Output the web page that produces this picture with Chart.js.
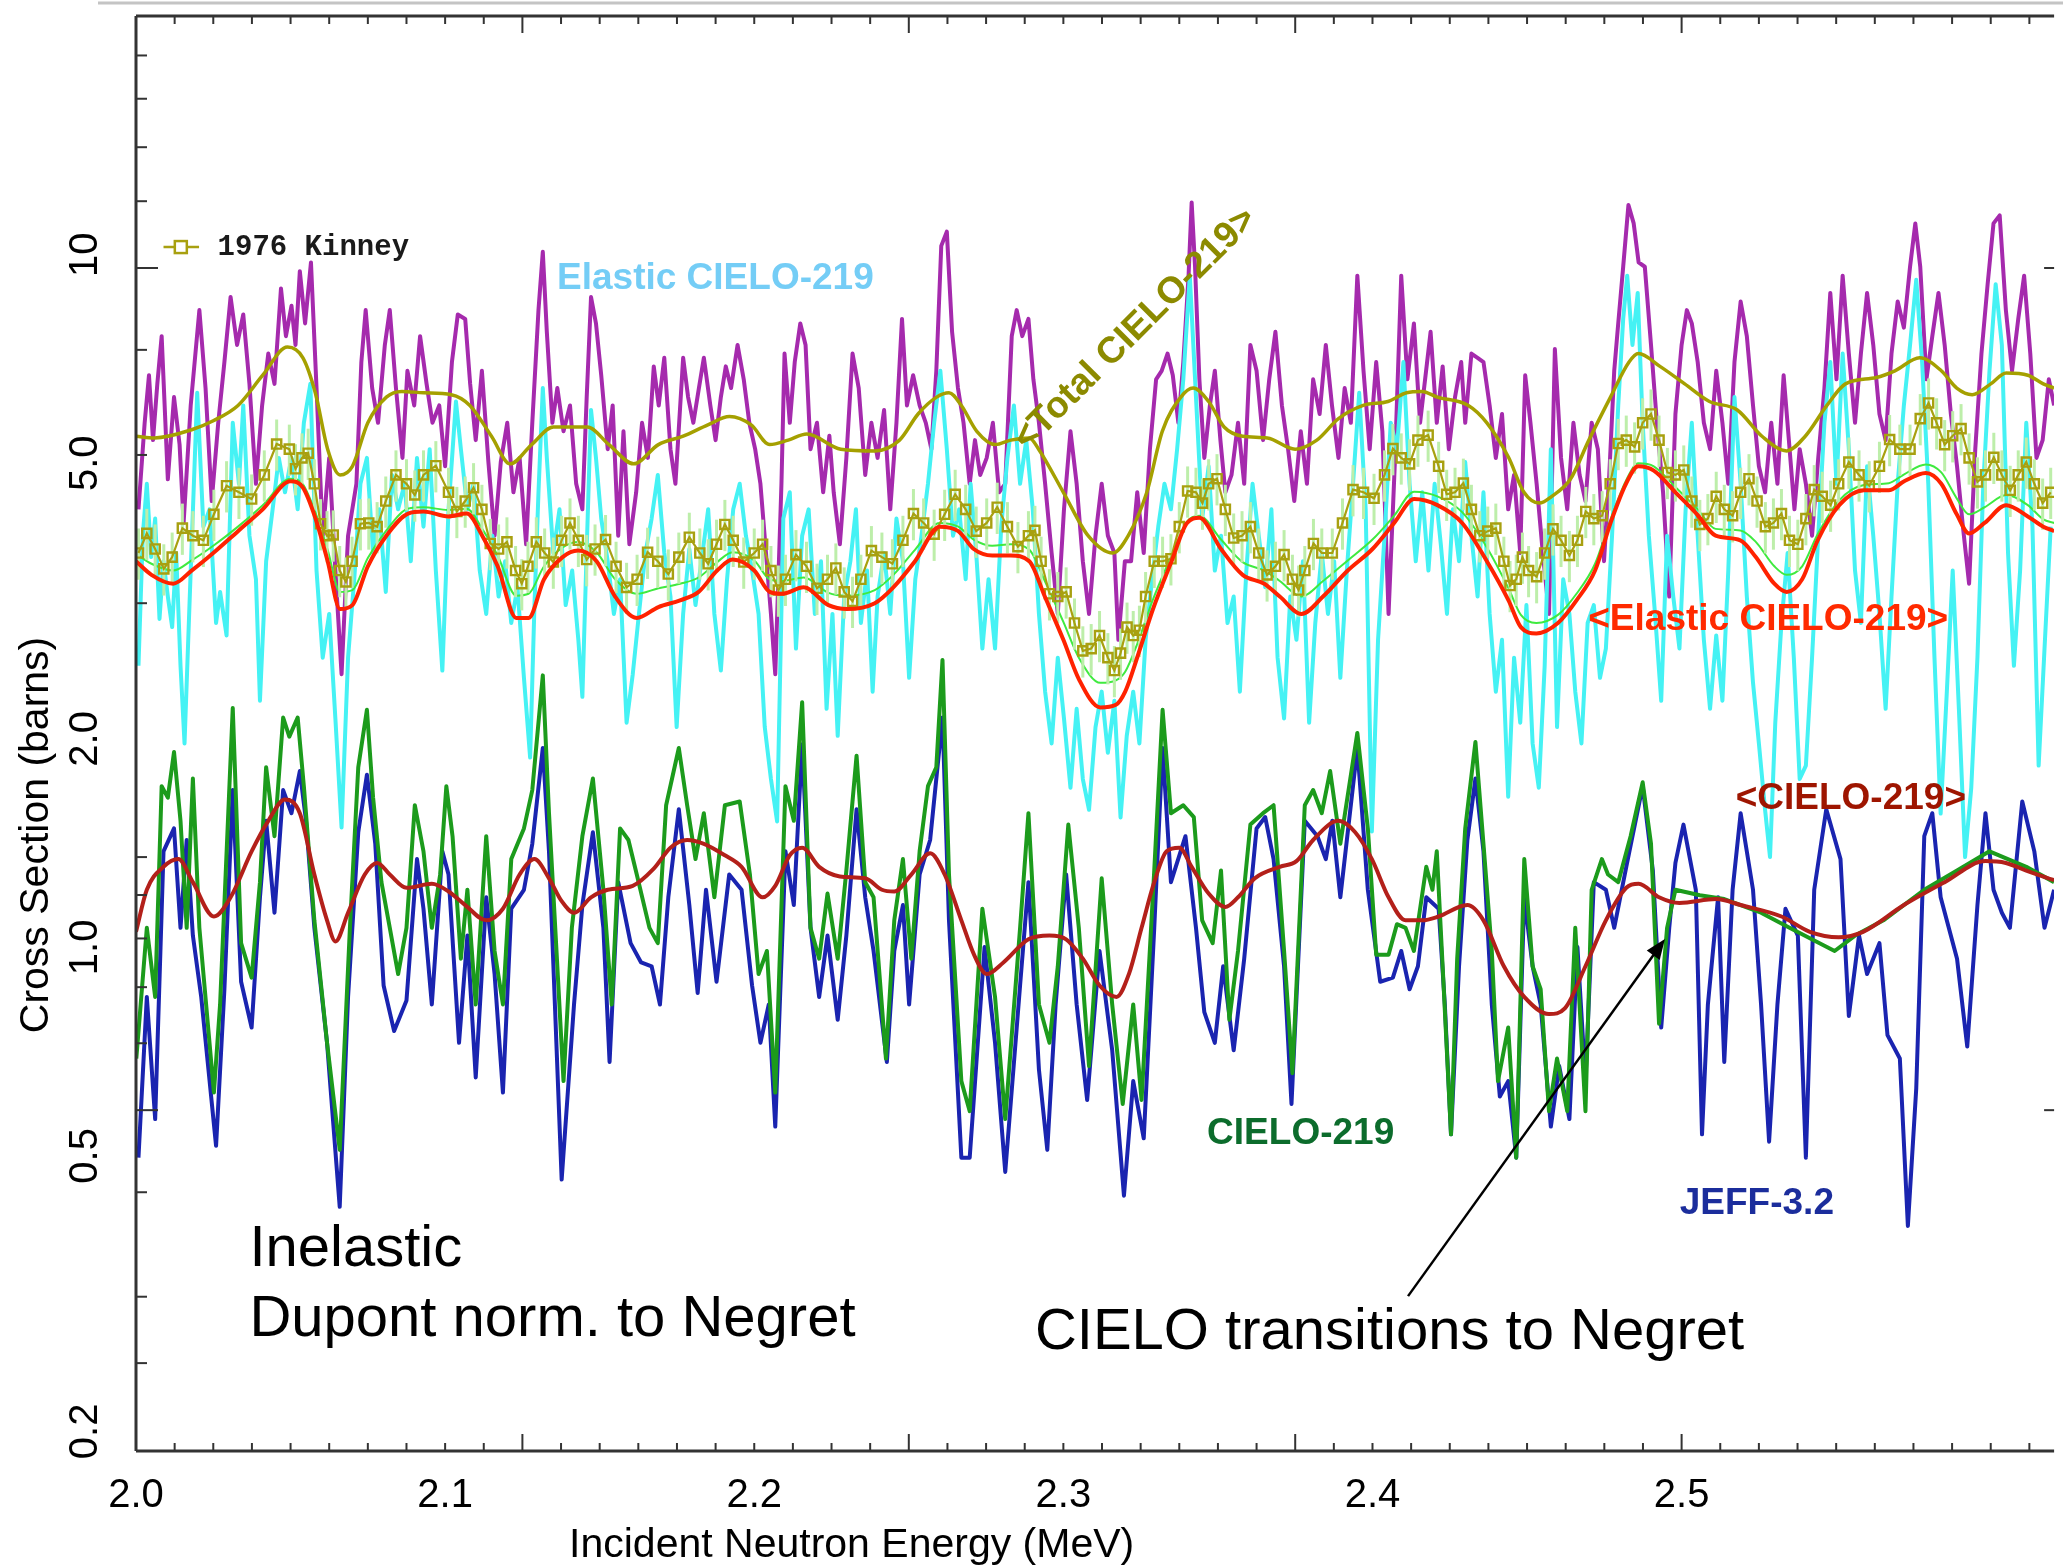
<!DOCTYPE html>
<html lang="en">
<head>
<meta charset="UTF-8">
<title>Inelastic and elastic cross sections 2.0 - 2.6 MeV</title>
<script src="https://cdn.jsdelivr.net/npm/chart.js"></script>
<style>
  html, body { margin: 0; padding: 0; background: #fff; overflow: hidden; }
  canvas { display: block; }
</style>
</head>
<body>
<canvas id="xsChart" width="2063" height="1568"></canvas>
<script>
// axis ranges (MeV, barns) and tick labels
const xRange = [2.0, 2.6205];
const yRange = [0.1874, 22.12];
const xTickVals = [2.0, 2.1, 2.2, 2.3, 2.4, 2.5];
const xTickText = ['2.0', '2.1', '2.2', '2.3', '2.4', '2.5'];
const yTickVals = [0.2, 0.5, 1, 2, 5, 10];
const yTickText = ['0.2', '0.5', '1.0', '2.0', '5.0', '10'];
// tick marks of the original plot frame
const xMinorStep = 0.0125;
const leftMarks = [0.251, 0.313, 0.443, 0.582, 0.727, 0.876, 1.03, 1.19, 1.35, 3.14, 5.14, 7.29, 9.57, 11.95, 14.3, 16.8, 19.4];
const leftMarksLong = [0.582, 9.57];

// total, pointwise (magenta)
const totalPts = [
[2.0008,4.29],[2.0028,5.72],[2.0042,6.70],[2.0055,5.40],[2.0069,6.51],[2.0083,7.63],[2.0103,4.74],[2.0123,6.23],[2.0141,5.32],[2.0154,4.10],[2.0177,6.06],[2.0205,8.32],[2.0225,6.42],[2.0245,4.41],[2.0266,5.72],[2.0286,7.00],[2.0306,8.69],[2.0327,7.41],[2.0347,8.20],[2.0367,6.51],[2.0388,4.67],[2.0408,6.06],[2.0428,7.20],[2.0448,6.51],[2.0469,8.94],[2.0485,7.63],[2.0503,8.44],[2.0516,7.41],[2.0530,9.47],[2.0547,7.96],[2.0566,9.75],[2.0584,6.42],[2.0604,3.93],[2.0625,5.09],[2.0645,3.50],[2.0665,2.48],[2.0686,3.93],[2.0713,4.67],[2.0729,7.00],[2.0743,8.32],[2.0764,6.42],[2.0783,5.72],[2.0805,7.41],[2.0821,8.32],[2.0841,6.42],[2.0862,5.09],[2.0878,6.80],[2.0900,6.06],[2.0919,7.63],[2.0940,6.51],[2.0959,5.72],[2.0981,6.06],[2.1000,4.95],[2.1022,7.00],[2.1041,8.20],[2.1065,8.08],[2.1081,6.51],[2.1099,5.40],[2.1119,6.80],[2.1140,5.02],[2.1160,3.93],[2.1180,5.02],[2.1201,5.72],[2.1221,4.54],[2.1241,5.09],[2.1262,3.82],[2.1282,5.72],[2.1302,8.32],[2.1316,10.1],[2.1329,7.74],[2.1347,5.72],[2.1363,6.42],[2.1383,5.56],[2.1404,6.06],[2.1424,4.67],[2.1444,4.29],[2.1458,6.23],[2.1472,8.69],[2.1488,7.96],[2.1505,6.70],[2.1526,5.24],[2.1542,6.06],[2.1560,3.93],[2.1577,5.56],[2.1596,3.82],[2.1618,4.54],[2.1637,5.72],[2.1656,5.09],[2.1675,6.90],[2.1691,6.06],[2.1709,7.10],[2.1729,5.24],[2.1745,4.67],[2.1770,7.10],[2.1786,6.23],[2.1803,5.72],[2.1821,6.42],[2.1837,7.10],[2.1858,6.06],[2.1875,5.40],[2.1892,6.23],[2.1908,6.90],[2.1925,6.42],[2.1946,7.41],[2.1966,6.61],[2.1984,5.72],[2.2003,5.24],[2.2020,4.67],[2.2038,3.71],[2.2054,3.03],[2.2068,2.48],
[2.2088,4.67],[2.2098,7.20],[2.2115,5.72],[2.2131,7.00],[2.2149,7.96],[2.2166,7.41],[2.2182,5.24],[2.2203,5.72],[2.2223,4.54],[2.2243,5.48],[2.2257,4.54],[2.2277,3.82],[2.2298,5.09],[2.2318,7.20],[2.2338,6.42],[2.2359,4.81],[2.2379,5.72],[2.2399,5.09],[2.2420,5.97],[2.2440,4.29],[2.2460,5.72],[2.2478,8.08],[2.2494,6.06],[2.2514,6.70],[2.2535,6.06],[2.2555,5.72],[2.2573,5.24],[2.2589,6.80],[2.2605,10.3],[2.2623,10.8],[2.2640,7.74],[2.2659,6.42],[2.2677,5.72],[2.2697,4.67],[2.2714,5.40],[2.2731,4.81],[2.2752,5.09],[2.2772,5.72],[2.2792,4.54],[2.2812,4.67],[2.2833,7.63],[2.2849,8.32],[2.2867,7.63],[2.2887,8.08],[2.2903,6.61],[2.2921,5.72],[2.2941,4.67],[2.2962,3.71],[2.2982,3.03],[2.3002,4.29],[2.3023,5.56],[2.3043,4.67],[2.3063,3.61],[2.3083,3.03],[2.3104,3.93],[2.3124,4.67],[2.3144,3.93],[2.3165,3.71],[2.3178,2.78],[2.3199,3.61],[2.3219,3.61],[2.3239,4.54],[2.3260,3.71],[2.3280,5.24],[2.3300,6.61],[2.3318,6.80],[2.3337,7.20],[2.3354,6.70],[2.3372,5.72],[2.3388,7.00],[2.3405,9.33],[2.3415,11.9],[2.3426,9.61],[2.3440,6.61],[2.3456,5.09],[2.3474,6.06],[2.3490,6.80],[2.3508,5.40],[2.3524,4.54],[2.3544,4.81],[2.3565,5.72],[2.3585,4.67],[2.3605,7.41],[2.3625,6.80],[2.3646,5.40],[2.3666,6.61],[2.3686,7.74],[2.3707,6.06],[2.3727,5.24],[2.3747,4.41],[2.3768,5.56],[2.3788,4.67],[2.3808,6.61],[2.3829,5.89],[2.3849,7.41],[2.3869,6.06],[2.3890,5.09],[2.3910,6.42],[2.3930,5.72],[2.3951,9.33],[2.3971,6.80],[2.3991,5.24],[2.4012,7.00],[2.4032,5.56],[2.4052,3.03],[2.4073,5.09],[2.4093,9.33],[2.4113,6.61],[2.4134,7.96],[2.4154,5.72],
[2.4188,7.74],[2.4208,5.72],[2.4227,6.90],[2.4247,5.24],[2.4267,6.23],[2.4287,7.00],[2.4300,5.72],[2.4320,7.20],[2.4340,7.10],[2.4359,7.00],[2.4379,6.06],[2.4399,5.09],[2.4419,5.89],[2.4439,4.29],[2.4458,4.81],[2.4478,3.71],[2.4494,6.70],[2.4511,5.72],[2.4531,4.67],[2.4551,3.71],[2.4571,3.03],[2.4590,7.31],[2.4610,5.09],[2.4630,4.29],[2.4650,5.72],[2.4670,4.81],[2.4689,4.41],[2.4709,5.72],[2.4729,5.24],[2.4749,3.61],[2.4766,4.81],[2.4782,6.80],[2.4795,7.96],[2.4811,9.61],[2.4828,11.8],[2.4845,11.1],[2.4861,9.75],[2.4881,9.61],[2.4901,7.41],[2.4920,5.72],[2.4940,4.54],[2.4960,3.21],[2.4980,5.89],[2.5000,7.41],[2.5017,8.32],[2.5033,7.96],[2.5052,7.00],[2.5072,5.72],[2.5092,5.24],[2.5112,6.80],[2.5132,5.72],[2.5151,4.67],[2.5171,7.00],[2.5191,8.56],[2.5211,7.63],[2.5231,6.06],[2.5250,4.95],[2.5270,4.54],[2.5290,5.72],[2.5310,4.67],[2.5330,6.70],[2.5347,5.40],[2.5365,4.29],[2.5382,5.24],[2.5402,4.67],[2.5422,3.93],[2.5442,5.09],[2.5462,6.42],[2.5481,8.81],[2.5501,6.61],[2.5521,9.33],[2.5541,7.20],[2.5561,5.72],[2.5580,7.20],[2.5600,8.81],[2.5620,7.41],[2.5640,5.89],[2.5660,5.40],[2.5679,7.20],[2.5699,8.56],[2.5719,7.85],[2.5739,9.61],[2.5756,11.1],[2.5772,9.61],[2.5792,6.61],[2.5811,7.63],[2.5831,8.81],[2.5851,7.41],[2.5871,5.89],[2.5891,4.95],[2.5910,4.05],[2.5930,3.35],[2.5950,5.24],[2.5970,7.20],[2.5990,9.07],[2.6009,11.1],[2.6029,11.4],[2.6049,8.32],[2.6069,6.80],[2.6089,8.08],[2.6108,9.33],[2.6128,7.20],[2.6148,5.09],[2.6168,5.40],[2.6188,6.61],[2.6205,6.06]
];

// elastic CIELO-219, pointwise (cyan)
const elasticPts = [
[2.0008,2.55],[2.0022,3.93],[2.0035,4.67],[2.0049,3.66],[2.0062,4.16],[2.0076,2.98],[2.0089,3.61],[2.0103,3.21],[2.0117,2.90],[2.0130,3.71],[2.0144,2.55],[2.0157,1.97],[2.0177,3.50],[2.0198,6.32],[2.0218,4.05],[2.0238,4.29],[2.0259,2.94],[2.0272,3.26],[2.0293,2.82],[2.0313,5.72],[2.0333,4.67],[2.0347,6.06],[2.0367,3.93],[2.0388,3.40],[2.0401,2.27],[2.0421,3.61],[2.0442,4.29],[2.0462,5.09],[2.0482,4.54],[2.0503,5.09],[2.0523,4.29],[2.0543,5.72],[2.0564,6.51],[2.0584,3.50],[2.0604,2.62],[2.0625,3.03],[2.0645,2.14],[2.0665,1.49],[2.0686,2.62],[2.0706,3.40],[2.0726,4.67],[2.0747,5.09],[2.0767,3.71],[2.0787,4.29],[2.0808,3.26],[2.0828,4.81],[2.0848,4.29],[2.0869,4.67],[2.0889,3.61],[2.0909,5.09],[2.0930,4.05],[2.0950,5.24],[2.0970,3.50],[2.0991,2.51],[2.1011,4.29],[2.1035,6.14],[2.1051,5.24],[2.1072,4.29],[2.1092,4.67],[2.1112,3.50],[2.1133,3.03],[2.1153,3.93],[2.1173,3.21],[2.1194,3.61],[2.1214,2.94],[2.1234,3.31],[2.1255,2.45],[2.1275,1.88],[2.1289,3.12],[2.1302,4.54],[2.1316,6.42],[2.1329,5.09],[2.1350,3.71],[2.1370,4.29],[2.1390,3.12],[2.1411,3.50],[2.1431,2.78],[2.1444,2.30],[2.1458,3.76],[2.1472,5.97],[2.1488,5.09],[2.1505,4.16],[2.1526,3.61],[2.1546,3.03],[2.1566,3.40],[2.1587,2.11],[2.1607,2.48],[2.1627,3.03],[2.1648,3.71],[2.1668,4.16],[2.1688,4.81],[2.1709,3.71],[2.1729,3.21],[2.1749,2.08],[2.1770,3.03],[2.1790,3.76],[2.1810,3.12],[2.1831,3.66],[2.1851,4.29],[2.1871,3.03],[2.1892,2.51],[2.1912,3.40],[2.1932,4.29],[2.1953,4.67],[2.1973,3.93],[2.1993,3.50],[2.2014,3.03],[2.2034,2.08],[2.2054,1.75],[2.2074,1.52],
[2.2094,4.16],[2.2115,4.54],[2.2135,2.70],[2.2155,3.93],[2.2176,4.29],[2.2196,3.03],[2.2216,3.61],[2.2234,2.21],[2.2253,3.03],[2.2270,2.02],[2.2291,3.21],[2.2311,3.61],[2.2329,4.29],[2.2345,2.94],[2.2365,3.50],[2.2383,2.34],[2.2399,3.21],[2.2420,3.71],[2.2440,3.03],[2.2460,4.16],[2.2481,3.61],[2.2501,2.45],[2.2521,3.40],[2.2541,3.93],[2.2562,4.67],[2.2582,5.72],[2.2602,6.80],[2.2623,5.24],[2.2643,3.93],[2.2663,4.29],[2.2684,3.40],[2.2700,4.67],[2.2718,3.71],[2.2738,2.70],[2.2758,3.40],[2.2779,2.70],[2.2799,4.05],[2.2819,5.09],[2.2840,6.06],[2.2860,4.67],[2.2880,5.40],[2.2901,4.29],[2.2921,3.03],[2.2941,2.34],[2.2962,1.97],[2.2982,2.62],[2.3002,2.14],[2.3023,1.70],[2.3043,2.21],[2.3063,1.75],[2.3083,1.58],[2.3104,2.08],[2.3124,2.34],[2.3144,1.91],[2.3165,2.27],[2.3185,1.54],[2.3205,2.02],[2.3226,2.34],[2.3246,1.97],[2.3266,2.78],[2.3287,3.40],[2.3307,4.05],[2.3327,4.67],[2.3348,4.29],[2.3368,5.24],[2.3388,6.61],[2.3409,9.33],[2.3429,6.23],[2.3449,4.16],[2.3470,4.95],[2.3490,3.50],[2.3510,3.93],[2.3531,2.94],[2.3551,3.21],[2.3571,2.34],[2.3592,3.50],[2.3612,4.67],[2.3632,3.93],[2.3653,3.31],[2.3673,4.29],[2.3693,2.62],[2.3714,2.14],[2.3734,3.21],[2.3754,2.78],[2.3775,3.61],[2.3795,2.11],[2.3815,2.94],[2.3836,3.71],[2.3856,3.03],[2.3876,3.61],[2.3896,2.45],[2.3917,3.50],[2.3937,4.67],[2.3957,6.32],[2.3978,4.29],[2.3998,1.47],[2.4018,2.78],[2.4039,3.93],[2.4059,5.72],[2.4079,5.24],[2.4100,7.00],[2.4120,4.67],[2.4140,3.61],
[2.4161,4.54],[2.4181,3.50],[2.4201,4.67],[2.4221,3.82],[2.4241,3.03],[2.4260,4.29],[2.4280,3.61],[2.4300,5.02],[2.4320,3.93],[2.4340,3.21],[2.4359,4.54],[2.4379,3.03],[2.4399,2.34],[2.4419,2.78],[2.4439,1.65],[2.4458,2.62],[2.4478,2.11],[2.4498,3.12],[2.4518,1.97],[2.4538,1.70],[2.4557,2.55],[2.4577,5.24],[2.4597,2.08],[2.4617,3.40],[2.4637,3.03],[2.4656,2.34],[2.4676,1.97],[2.4696,2.94],[2.4716,3.12],[2.4736,2.45],[2.4755,2.70],[2.4775,3.93],[2.4795,6.06],[2.4811,8.08],[2.4824,9.33],[2.4841,7.41],[2.4858,8.81],[2.4874,5.72],[2.4894,3.93],[2.4914,3.03],[2.4934,2.27],[2.4953,3.93],[2.4973,3.21],[2.4993,2.70],[2.5013,4.29],[2.5033,5.72],[2.5052,3.93],[2.5072,2.78],[2.5092,2.21],[2.5112,2.82],[2.5132,2.27],[2.5151,3.50],[2.5171,6.23],[2.5191,4.67],[2.5211,3.21],[2.5231,2.41],[2.5250,1.97],[2.5270,1.58],[2.5286,1.35],[2.5303,2.11],[2.5323,2.94],[2.5343,3.71],[2.5363,2.62],[2.5382,1.75],[2.5402,1.83],[2.5422,2.62],[2.5442,3.93],[2.5462,5.72],[2.5481,7.00],[2.5501,4.67],[2.5521,7.20],[2.5541,5.24],[2.5561,3.50],[2.5580,2.94],[2.5600,4.95],[2.5620,3.93],[2.5640,3.03],[2.5660,2.21],[2.5679,3.21],[2.5699,4.67],[2.5719,6.06],[2.5739,7.41],[2.5759,9.20],[2.5778,7.00],[2.5798,4.67],[2.5818,2.62],[2.5838,1.56],[2.5858,2.34],[2.5877,3.50],[2.5897,2.21],[2.5917,1.35],[2.5937,1.70],[2.5957,2.62],[2.5976,4.67],[2.5996,6.80],[2.6016,9.07],[2.6036,7.41],[2.6056,3.71],[2.6075,2.55],[2.6095,3.50],[2.6115,5.72],[2.6135,4.05],[2.6155,1.83],[2.6174,2.70],[2.6194,4.05]
];

// <Total CIELO-219> (olive, averaged)
const totalAvg = [
[2.000,5.47],[2.006,5.44],[2.018,5.59],[2.025,5.76],[2.033,6.06],[2.041,6.70],[2.049,7.36],[2.054,7.10],[2.058,6.32],[2.062,5.24],[2.066,4.81],[2.070,4.95],[2.075,5.72],[2.081,6.23],[2.086,6.35],[2.093,6.32],[2.102,6.28],[2.108,6.06],[2.115,5.47],[2.121,4.99],[2.128,5.32],[2.135,5.64],[2.146,5.64],[2.153,5.32],[2.161,4.99],[2.169,5.32],[2.177,5.47],[2.185,5.68],[2.192,5.84],[2.199,5.68],[2.205,5.32],[2.211,5.40],[2.217,5.51],[2.228,5.24],[2.239,5.21],[2.247,5.40],[2.253,5.89],[2.259,6.23],[2.263,6.32],[2.267,6.06],[2.272,5.56],[2.278,5.32],[2.283,5.40],[2.289,5.44],[2.292,5.24],[2.300,4.54],[2.308,3.93],[2.316,3.71],[2.321,3.93],[2.327,4.54],[2.332,5.56],[2.338,6.23],[2.342,6.42],[2.347,6.14],[2.352,5.64],[2.358,5.47],[2.366,5.44],[2.375,5.24],[2.382,5.40],[2.389,5.80],[2.397,6.06],[2.405,6.14],[2.411,6.32],[2.416,6.35],[2.421,6.23],[2.431,6.06],[2.437,5.72],[2.444,5.10],[2.449,4.54],[2.454,4.38],[2.458,4.48],[2.464,4.74],[2.470,5.40],[2.477,6.23],[2.483,7.00],[2.486,7.20],[2.493,6.90],[2.501,6.51],[2.509,6.14],[2.518,5.97],[2.526,5.47],[2.534,5.21],[2.540,5.47],[2.547,6.06],[2.553,6.51],[2.563,6.65],[2.569,6.80],[2.577,7.10],[2.584,6.80],[2.589,6.42],[2.594,6.28],[2.600,6.51],[2.605,6.75],[2.612,6.70],[2.617,6.51],[2.6205,6.42]
];

// 1976 Kinney measurement (olive squares)
const kinneyPts = [
[2.0008,3.71],[2.0035,3.96],[2.0062,3.76],[2.0090,3.52],[2.0117,3.66],[2.0150,4.03],[2.0184,3.93],[2.0218,3.87],[2.0252,4.22],[2.0293,4.64],[2.0333,4.54],[2.0374,4.44],[2.0415,4.81],[2.0455,5.33],[2.0496,5.24],[2.0516,4.91],[2.0537,5.09],[2.0557,5.17],[2.0577,4.67],[2.0597,4.09],[2.0618,3.93],[2.0638,3.94],[2.0659,3.50],[2.0679,3.37],[2.0699,3.61],[2.0726,4.09],[2.0753,4.10],[2.0780,4.05],[2.0808,4.41],[2.0841,4.81],[2.0875,4.67],[2.0902,4.50],[2.0930,4.81],[2.0970,4.96],[2.1011,4.54],[2.1038,4.26],[2.1065,4.41],[2.1092,4.61],[2.1119,4.29],[2.1146,3.83],[2.1173,3.76],[2.1200,3.85],[2.1228,3.50],[2.1248,3.35],[2.1268,3.55],[2.1295,3.85],[2.1322,3.71],[2.1350,3.60],[2.1377,3.87],[2.1404,4.10],[2.1431,3.87],[2.1458,3.63],[2.1485,3.76],[2.1519,3.88],[2.1553,3.55],[2.1587,3.31],[2.1621,3.40],[2.1655,3.72],[2.1688,3.61],[2.1722,3.46],[2.1756,3.66],[2.1790,3.91],[2.1824,3.71],[2.1851,3.58],[2.1878,3.82],[2.1905,4.08],[2.1932,3.87],[2.1966,3.60],[2.2000,3.71],[2.2027,3.82],[2.2054,3.50],[2.2078,3.28],[2.2101,3.40],[2.2135,3.69],[2.2169,3.55],[2.2203,3.30],[2.2237,3.40],[2.2264,3.53],[2.2291,3.26],[2.2318,3.16],[2.2345,3.40],[2.2379,3.74],[2.2413,3.66],[2.2447,3.58],[2.2481,3.87],[2.2515,4.23],[2.2548,4.10],[2.2582,3.95],[2.2616,4.22],[2.2650,4.51],[2.2684,4.29],[2.2718,3.99],[2.2752,4.10],[2.2786,4.32],[2.2819,4.05],[2.2853,3.79],[2.2887,3.93],[2.2908,4.00],[2.2928,3.61],[2.2955,3.24],[2.2982,3.21],[2.3009,3.26],[2.3036,2.94],[2.3063,2.68],[2.3090,2.70],[2.3117,2.82],[2.3144,2.62],[2.3165,2.51],[2.3185,2.66],[2.3206,2.90],[2.3226,2.82],[2.3246,2.87],[2.3266,3.21],[2.3294,3.61],[2.3321,3.61],[2.3348,3.64],[2.3375,4.05],[2.3402,4.56],[2.3429,4.54],[2.3450,4.38],[2.3470,4.67],[2.3497,4.75],[2.3524,4.29],[2.3551,3.90],[2.3578,3.93],[2.3605,4.05],[2.3632,3.71],[2.3659,3.45],[2.3686,3.55],[2.3714,3.69],[2.3741,3.40],[2.3761,3.28],[2.3781,3.50],[2.3809,3.83],[2.3836,3.71],[2.3870,3.71],[2.3903,4.10],[2.3937,4.58],[2.3971,4.54],[2.4005,4.45],[2.4039,4.81],[2.4066,5.25],[2.4093,5.09],[2.4120,4.99],[2.4147,5.40],[2.4180,5.49],[2.4214,4.95],[2.4240,4.51],[2.4267,4.54],[2.4294,4.68],[2.4320,4.29],[2.4347,3.93],[2.4373,3.99],[2.4399,4.03],[2.4425,3.61],[2.4445,3.33],[2.4465,3.40],[2.4485,3.66],[2.4505,3.50],[2.4531,3.43],[2.4557,3.71],[2.4584,4.02],[2.4610,3.87],[2.4637,3.68],[2.4663,3.87],[2.4690,4.26],[2.4716,4.16],[2.4743,4.20],[2.4769,4.67],[2.4795,5.34],[2.4821,5.40],[2.4848,5.28],[2.4874,5.72],[2.4901,5.89],[2.4927,5.40],[2.4954,4.85],[2.4980,4.81],[2.5007,4.89],[2.5033,4.41],[2.5059,4.08],[2.5085,4.16],[2.5112,4.48],[2.5138,4.29],[2.5165,4.20],[2.5191,4.54],[2.5218,4.75],[2.5244,4.41],[2.5271,4.05],[2.5297,4.10],[2.5323,4.23],[2.5349,3.87],[2.5376,3.82],[2.5402,4.16],[2.5429,4.58],[2.5455,4.48],[2.5482,4.35],[2.5508,4.67],[2.5541,5.02],[2.5574,4.81],[2.5607,4.64],[2.5640,4.95],[2.5673,5.41],[2.5706,5.24],[2.5739,5.24],[2.5772,5.80],[2.5799,6.11],[2.5825,5.72],[2.5851,5.32],[2.5877,5.48],[2.5904,5.61],[2.5930,5.09],[2.5957,4.70],[2.5983,4.81],[2.6010,5.10],[2.6036,4.81],[2.6063,4.57],[2.6089,4.81],[2.6115,5.02],[2.6141,4.67],[2.6168,4.38],[2.6194,4.54]
];
const kinneyRelErr = 0.085;

// <Elastic CIELO-219> (red, averaged) and companion average (light green)
const elasticAvg = [
[2.000,3.61],[2.005,3.45],[2.012,3.35],[2.018,3.50],[2.025,3.71],[2.033,3.99],[2.041,4.29],[2.050,4.71],[2.054,4.61],[2.058,4.17],[2.062,3.61],[2.066,3.08],[2.070,3.12],[2.075,3.55],[2.081,3.93],[2.088,4.23],[2.093,4.26],[2.101,4.19],[2.107,4.23],[2.112,3.93],[2.117,3.55],[2.123,2.99],[2.127,2.99],[2.132,3.40],[2.138,3.66],[2.143,3.74],[2.149,3.61],[2.155,3.21],[2.162,2.99],[2.169,3.10],[2.176,3.17],[2.182,3.26],[2.188,3.50],[2.193,3.63],[2.200,3.50],[2.205,3.26],[2.209,3.24],[2.216,3.31],[2.224,3.12],[2.230,3.08],[2.239,3.14],[2.245,3.31],[2.252,3.61],[2.260,4.05],[2.266,3.99],[2.271,3.76],[2.277,3.68],[2.283,3.68],[2.289,3.61],[2.294,3.21],[2.300,2.78],[2.305,2.44],[2.312,2.22],[2.317,2.24],[2.320,2.34],[2.324,2.63],[2.329,3.08],[2.335,3.61],[2.340,4.10],[2.344,4.17],[2.351,3.76],[2.358,3.45],[2.365,3.35],[2.370,3.21],[2.377,3.03],[2.384,3.21],[2.392,3.50],[2.400,3.76],[2.407,4.10],[2.4135,4.44],[2.421,4.35],[2.429,4.10],[2.437,3.61],[2.444,3.17],[2.448,2.90],[2.453,2.84],[2.460,2.94],[2.466,3.17],[2.472,3.50],[2.477,4.10],[2.482,4.67],[2.486,4.95],[2.491,4.88],[2.498,4.54],[2.505,4.22],[2.511,3.93],[2.519,3.87],[2.524,3.66],[2.530,3.35],[2.534,3.26],[2.539,3.40],[2.544,3.87],[2.551,4.35],[2.559,4.57],[2.567,4.57],[2.572,4.71],[2.579,4.84],[2.584,4.67],[2.589,4.22],[2.593,3.96],[2.598,4.10],[2.605,4.35],[2.612,4.19],[2.617,4.05],[2.6205,3.99]
];
const elasticAvgAlt = [
[2.000,3.70],[2.005,3.58],[2.012,3.50],[2.018,3.62],[2.025,3.80],[2.033,4.05],[2.041,4.35],[2.050,4.75],[2.054,4.66],[2.058,4.25],[2.062,3.75],[2.066,3.26],[2.070,3.28],[2.075,3.65],[2.081,4.00],[2.088,4.30],[2.093,4.32],[2.101,4.28],[2.107,4.30],[2.112,4.02],[2.117,3.68],[2.123,3.22],[2.127,3.24],[2.132,3.55],[2.138,3.78],[2.143,3.85],[2.149,3.72],[2.155,3.40],[2.162,3.24],[2.169,3.30],[2.176,3.35],[2.182,3.42],[2.188,3.60],[2.193,3.72],[2.200,3.62],[2.205,3.40],[2.209,3.38],[2.216,3.42],[2.224,3.25],[2.230,3.22],[2.239,3.28],[2.245,3.45],[2.252,3.75],[2.260,4.10],[2.266,4.05],[2.271,3.88],[2.277,3.80],[2.283,3.82],[2.289,3.75],[2.294,3.38],[2.300,2.95],[2.305,2.62],[2.312,2.41],[2.317,2.43],[2.320,2.50],[2.324,2.75],[2.329,3.18],[2.335,3.68],[2.340,4.12],[2.344,4.20],[2.351,3.88],[2.358,3.60],[2.365,3.50],[2.370,3.38],[2.377,3.21],[2.384,3.38],[2.392,3.62],[2.400,3.88],[2.407,4.20],[2.4135,4.55],[2.421,4.48],[2.429,4.25],[2.437,3.78],[2.444,3.30],[2.448,3.02],[2.453,2.94],[2.460,3.02],[2.466,3.24],[2.472,3.58],[2.477,4.15],[2.482,4.72],[2.486,5.00],[2.491,4.95],[2.498,4.62],[2.505,4.30],[2.511,4.02],[2.519,4.00],[2.524,3.85],[2.530,3.55],[2.534,3.45],[2.539,3.55],[2.544,3.95],[2.551,4.42],[2.559,4.65],[2.567,4.68],[2.572,4.82],[2.579,4.98],[2.584,4.85],[2.589,4.45],[2.593,4.22],[2.598,4.32],[2.605,4.50],[2.612,4.35],[2.617,4.15],[2.6205,4.10]
];

// inelastic CIELO-219 (green), JEFF-3.2 (blue), <CIELO-219> average (dark red)
const inelCielo = [
[2.0001,0.691],[2.0035,1.067],[2.0062,0.848],[2.0083,1.709],[2.0103,1.645],[2.0123,1.915],[2.0144,1.523],[2.0164,1.067],[2.0184,1.753],[2.0205,1.067],[2.0252,0.617],[2.0272,0.827],[2.0313,2.216],[2.0340,1.014],[2.0374,0.904],[2.0401,1.242],[2.0421,1.820],[2.0448,1.447],[2.0476,2.147],[2.0496,2.015],[2.0523,2.147],[2.0543,1.709],[2.0577,1.094],[2.0618,0.728],[2.0659,0.510],[2.0692,1.067],[2.0719,1.820],[2.0747,2.203],[2.0767,1.645],[2.0794,1.242],[2.0821,1.067],[2.0848,0.915],[2.0875,1.067],[2.0902,1.604],[2.0930,1.376],[2.0957,1.067],[2.0984,1.274],[2.1004,1.709],[2.1024,1.447],[2.1051,0.963],[2.1072,1.211],[2.1099,0.827],[2.1133,1.447],[2.1160,0.988],[2.1187,0.827],[2.1214,1.341],[2.1255,1.485],[2.1282,1.687],[2.1316,2.470],[2.1336,1.562],[2.1363,0.939],[2.1383,0.641],[2.1410,1.067],[2.1444,1.447],[2.1478,1.753],[2.1512,1.211],[2.1539,0.827],[2.1566,1.485],[2.1593,1.429],[2.1620,1.274],[2.1661,1.067],[2.1688,1.014],[2.1715,1.604],[2.1756,1.940],[2.1783,1.604],[2.1810,1.341],[2.1837,1.562],[2.1871,1.181],[2.1905,1.604],[2.1953,1.624],[2.1986,1.274],[2.2014,0.915],[2.2041,0.988],[2.2068,0.617],
[2.2101,1.709],[2.2128,1.523],[2.2155,2.259],[2.2182,1.067],[2.2210,0.963],[2.2237,1.196],[2.2270,0.963],[2.2298,1.291],[2.2331,1.891],[2.2359,1.242],[2.2386,1.181],[2.2426,0.691],[2.2453,1.094],[2.2481,1.341],[2.2508,0.963],[2.2535,1.376],[2.2562,1.709],[2.2589,1.820],[2.2609,2.600],[2.2630,1.274],[2.2670,0.641],[2.2697,0.580],[2.2738,1.137],[2.2779,0.848],[2.2812,0.565],[2.2860,1.067],[2.2887,1.562],[2.2921,0.827],[2.2955,0.728],[2.2982,0.939],[2.3016,1.504],[2.3050,1.067],[2.3083,0.674],[2.3124,1.258],[2.3158,0.827],[2.3192,0.594],[2.3226,0.827],[2.3253,0.602],[2.3294,1.291],[2.3321,2.203],[2.3348,1.562],[2.3388,1.604],[2.3422,1.542],[2.3449,1.094],[2.3483,1.014],[2.3510,1.291],[2.3537,0.786],[2.3565,0.988],[2.3605,1.504],[2.3646,1.562],[2.3680,1.604],[2.3714,0.988],[2.3741,0.658],[2.3781,1.604],[2.3808,1.687],[2.3836,1.562],[2.3863,1.797],[2.3896,1.411],[2.3951,2.040],[2.3985,1.485],[2.4012,0.976],[2.4052,0.976],[2.4079,1.080],[2.4107,1.067],[2.4134,0.988],[2.4174,1.307],
[2.4194,1.211],[2.4208,1.376],[2.4227,0.939],[2.4254,0.537],[2.4274,0.963],[2.4300,1.485],[2.4333,1.980],[2.4359,1.411],[2.4386,0.988],[2.4406,0.641],[2.4439,0.766],[2.4465,0.497],[2.4491,1.341],[2.4518,0.939],[2.4544,0.870],[2.4571,0.580],[2.4597,0.691],[2.4630,0.580],[2.4656,1.067],[2.4689,0.580],[2.4709,1.211],[2.4742,1.341],[2.4762,1.274],[2.4795,1.242],[2.4835,1.447],[2.4874,1.731],[2.4901,1.411],[2.4927,0.776],[2.4953,1.067],[2.4980,1.211],[2.5059,1.189],[2.5138,1.174],[2.5257,1.122],[2.5349,1.067],[2.5495,0.988],[2.5561,1.040],[2.5653,1.094],[2.5785,1.211],[2.5891,1.291],[2.5996,1.376],[2.6115,1.307],[2.6205,1.242]
];
const inelJeff = [
[2.0008,0.497],[2.0035,0.848],[2.0062,0.565],[2.0089,1.376],[2.0123,1.485],[2.0144,1.067],[2.0164,1.429],[2.0184,1.040],[2.0211,0.848],[2.0259,0.517],[2.0286,0.870],[2.0313,1.687],[2.0340,0.892],[2.0374,0.766],[2.0401,1.181],[2.0421,1.523],[2.0448,1.122],[2.0476,1.687],[2.0503,1.562],[2.0530,1.797],[2.0550,1.523],[2.0577,1.067],[2.0618,0.728],[2.0659,0.422],[2.0686,0.848],[2.0719,1.466],[2.0747,1.775],[2.0774,1.411],[2.0801,0.881],[2.0835,0.757],[2.0875,0.838],[2.0909,1.341],[2.0930,1.137],[2.0957,0.827],[2.0991,1.376],[2.1011,1.274],[2.1045,0.728],[2.1072,1.040],[2.1099,0.649],[2.1133,1.181],[2.1160,0.915],[2.1187,0.617],[2.1214,1.137],[2.1255,1.211],[2.1282,1.411],[2.1316,1.940],[2.1336,1.376],[2.1377,0.462],[2.1417,0.827],[2.1444,1.151],[2.1478,1.466],[2.1512,1.067],[2.1532,0.683],[2.1560,1.242],[2.1600,1.014],[2.1634,0.951],[2.1668,0.939],[2.1695,0.827],[2.1722,1.181],[2.1756,1.583],[2.1790,1.151],[2.1817,0.859],[2.1844,1.211],[2.1878,0.892],[2.1919,1.274],[2.1959,1.211],[2.1993,0.881],[2.2020,0.728],[2.2047,0.827],[2.2068,0.551],
[2.2101,1.376],[2.2128,1.151],[2.2155,1.965],[2.2182,1.067],[2.2210,0.848],[2.2237,1.040],[2.2270,0.786],[2.2298,1.040],[2.2331,1.583],[2.2359,1.181],[2.2386,0.988],[2.2429,0.683],[2.2453,0.988],[2.2481,1.151],[2.2501,0.827],[2.2535,1.274],[2.2569,1.429],[2.2609,2.147],[2.2630,1.094],[2.2670,0.497],[2.2697,0.497],[2.2745,1.001],[2.2779,0.728],[2.2812,0.474],[2.2860,0.881],[2.2887,1.242],[2.2921,0.666],[2.2948,0.510],[2.2975,0.827],[2.3009,1.274],[2.3043,0.827],[2.3077,0.602],[2.3117,0.988],[2.3158,0.710],[2.3196,0.438],[2.3226,0.641],[2.3260,0.530],[2.3294,1.067],[2.3321,1.940],[2.3348,1.242],[2.3395,1.447],[2.3429,1.067],[2.3456,0.806],[2.3490,0.728],[2.3517,0.939],[2.3551,0.710],[2.3585,0.963],[2.3625,1.485],[2.3653,1.542],[2.3680,1.341],[2.3714,0.939],[2.3738,0.594],[2.3781,1.523],[2.3822,1.447],[2.3849,1.341],[2.3870,1.523],[2.3896,1.181],[2.3951,1.940],[2.3985,1.211],[2.4025,0.892],[2.4066,0.904],[2.4093,0.988],[2.4120,0.870],[2.4147,0.939],[2.4174,1.181],
[2.4214,1.137],[2.4234,0.827],[2.4254,0.537],[2.4280,0.939],[2.4307,1.429],[2.4333,1.753],[2.4359,1.376],[2.4386,0.827],[2.4412,0.609],[2.4439,0.641],[2.4465,0.497],[2.4491,1.181],[2.4518,0.939],[2.4544,0.827],[2.4577,0.551],[2.4604,0.674],[2.4637,0.565],[2.4663,1.001],[2.4689,0.641],[2.4716,1.242],[2.4755,1.211],[2.4782,1.067],[2.4821,1.307],[2.4874,1.709],[2.4907,1.291],[2.4934,0.766],[2.4960,1.067],[2.4980,1.324],[2.5006,1.504],[2.5046,1.211],[2.5066,0.537],[2.5085,0.827],[2.5118,1.181],[2.5138,0.683],[2.5165,1.211],[2.5191,1.562],[2.5231,1.211],[2.5257,0.827],[2.5283,0.524],[2.5310,0.827],[2.5336,1.137],[2.5376,1.040],[2.5402,0.497],[2.5429,1.211],[2.5468,1.583],[2.5514,1.341],[2.5541,0.796],[2.5574,1.040],[2.5600,0.915],[2.5640,1.014],[2.5666,0.747],[2.5706,0.691],[2.5732,0.396],[2.5759,0.625],[2.5785,1.447],[2.5811,1.562],[2.5838,1.181],[2.5891,0.963],[2.5924,0.719],[2.5957,1.151],[2.5983,1.562],[2.6009,1.211],[2.6036,1.122],[2.6062,1.067],[2.6102,1.624],[2.6141,1.376],[2.6174,1.067],[2.6205,1.211]
];
const inelAvg = [
[2.000,1.053],[2.0035,1.211],[2.0089,1.307],[2.0137,1.341],[2.0184,1.242],[2.0252,1.108],[2.0306,1.181],[2.0374,1.376],[2.0428,1.523],[2.0482,1.635],[2.0530,1.562],[2.0577,1.274],[2.0618,1.094],[2.0645,1.020],[2.0686,1.122],[2.0740,1.274],[2.0780,1.324],[2.0821,1.274],[2.0875,1.219],[2.0957,1.235],[2.1011,1.204],[2.1065,1.151],[2.1133,1.094],[2.1187,1.137],[2.1241,1.274],[2.1289,1.341],[2.1336,1.258],[2.1377,1.166],[2.1417,1.122],[2.1472,1.181],[2.1526,1.211],[2.1607,1.227],[2.1675,1.299],[2.1729,1.393],[2.1783,1.429],[2.1837,1.411],[2.1905,1.358],[2.1959,1.307],[2.2027,1.181],[2.2068,1.227],[2.2115,1.358],[2.2155,1.393],[2.2210,1.307],[2.2277,1.266],[2.2359,1.258],[2.2413,1.211],[2.2453,1.204],[2.2508,1.274],[2.2569,1.367],[2.2616,1.274],[2.2670,1.094],[2.2711,0.976],[2.2752,0.915],[2.2806,0.951],[2.2887,1.027],[2.2955,1.040],[2.3009,1.027],[2.3063,0.963],[2.3117,0.881],[2.3172,0.848],[2.3212,0.915],[2.3253,1.067],[2.3294,1.242],[2.3334,1.376],[2.3375,1.393],[2.3415,1.307],[2.3470,1.196],[2.3524,1.144],[2.3565,1.181],[2.3619,1.258],[2.3700,1.307],[2.3754,1.332],[2.3808,1.429],[2.3890,1.523],[2.3944,1.466],[2.3998,1.341],[2.4052,1.181],[2.4107,1.094],[2.4161,1.094],[2.4214,1.108],[2.4307,1.151],[2.4359,1.094],[2.4425,0.939],[2.4491,0.848],[2.4571,0.801],[2.4623,0.817],[2.4689,0.939],[2.4755,1.094],[2.4821,1.219],[2.4861,1.235],[2.4927,1.181],[2.4993,1.159],[2.5112,1.174],[2.5191,1.151],[2.5323,1.108],[2.5415,1.053],[2.5508,1.034],[2.5587,1.053],[2.5719,1.151],[2.5851,1.242],[2.5983,1.332],[2.6049,1.324],[2.6115,1.291],[2.6205,1.250]
];

// annotation anchors in data units (MeV, barns)
const notes = [
  { text: 'Elastic CIELO-219', at: [2.1362, 9.23], color: '#74cdf6', size: 37, bold: true },
  { text: '<Elastic CIELO-219>', at: [2.4698, 2.97], color: '#ff2a00', size: 37, bold: true },
  { text: '<CIELO-219>', at: [2.5175, 1.638], color: '#9e1500', size: 37, bold: true },
  { text: 'CIELO-219', at: [2.3465, 0.538], color: '#0c6c2c', size: 37, bold: true },
  { text: 'JEFF-3.2', at: [2.4994, 0.426], color: '#1b2d9c', size: 37, bold: true },
  { text: 'Inelastic', at: [2.0367, 0.366], color: '#000', size: 58, bold: false },
  { text: 'Dupont norm. to Negret', at: [2.0367, 0.290], color: '#000', size: 58, bold: false },
  { text: 'CIELO transitions to Negret', at: [2.2908, 0.2774], color: '#000', size: 58, bold: false }
];
const totalNote = { text: '<Total CIELO-219>', at: [2.3233, 7.81], color: '#8c8a00', angle: -45 };
const arrowFrom = [2.4115, 0.3136];
const arrowTo = [2.4946, 1.028];
const legendAt = { line: [2.0089, 2.0204], mark: 2.0145, text: 2.0264, y: 10.26 };
const xTitleAt = 2.2315;
const yTitleAt = 1.453;

const pts = arr => arr.map(p => ({ x: p[0], y: p[1] }));
const SANS = '"Liberation Sans", Arial, Helvetica, sans-serif';

const frame = {
  id: 'frame',
  beforeDatasetDraw(chart, args) {
    const ds = chart.data.datasets[args.index];
    if (!ds.errRel) return;
    const ctx = chart.ctx, xs = chart.scales.x, ys = chart.scales.y;
    ctx.save();
    ctx.strokeStyle = '#bdeeaa';
    ctx.lineWidth = 3;
    ds.data.forEach(p => {
      const px = xs.getPixelForValue(p.x);
      ctx.beginPath();
      ctx.moveTo(px, ys.getPixelForValue(p.y * (1 - ds.errRel)));
      ctx.lineTo(px, ys.getPixelForValue(p.y * (1 + ds.errRel)));
      ctx.stroke();
    });
    ctx.restore();
  },
  afterDatasetsDraw(chart) {
    const ctx = chart.ctx, a = chart.chartArea;
    const xs = chart.scales.x, ys = chart.scales.y;
    const X = v => xs.getPixelForValue(v), Y = v => ys.getPixelForValue(v);
    const seg = (x1, y1, x2, y2) => { ctx.beginPath(); ctx.moveTo(x1, y1); ctx.lineTo(x2, y2); ctx.stroke(); };
    ctx.save();

    // screenshot frame line above the plot
    ctx.strokeStyle = '#c4c4c4';
    ctx.lineWidth = 3;
    seg(98, 3, chart.width, 3);

    // axes box
    ctx.strokeStyle = '#333';
    ctx.lineWidth = 3;
    seg(a.left, a.top, a.left, a.bottom);
    seg(a.left, a.bottom, a.right, a.bottom);
    seg(a.left, a.top, a.right, a.top);

    // tick marks (point into the plot)
    ctx.lineWidth = 2;
    for (let i = 0; xRange[0] + i * xMinorStep <= xRange[1]; i++) {
      const px = X(xRange[0] + i * xMinorStep);
      const len = i % 10 === 0 ? 17 : 8;
      seg(px, a.bottom, px, a.bottom - len);
      seg(px, a.top, px, a.top + len);
    }
    leftMarks.forEach(v => {
      const len = leftMarksLong.includes(v) ? 22 : 11;
      seg(a.left, Y(v), a.left + len, Y(v));
    });
    leftMarksLong.forEach(v => seg(a.right, Y(v), a.right - 10, Y(v)));

    // tick labels
    ctx.fillStyle = '#000';
    ctx.font = '40px ' + SANS;
    ctx.textAlign = 'center';
    ctx.textBaseline = 'middle';
    xTickVals.forEach((v, i) => ctx.fillText(xTickText[i], X(v), a.bottom + 45));
    yTickVals.forEach((v, i) => {
      ctx.save();
      ctx.translate(a.left - 50, Y(v));
      ctx.rotate(-Math.PI / 2);
      ctx.fillText(yTickText[i], 0, 0);
      ctx.restore();
    });

    // axis titles
    ctx.font = '41px ' + SANS;
    ctx.fillText('Incident Neutron Energy (MeV)', X(xTitleAt), a.bottom + 95);
    ctx.save();
    ctx.translate(37, Y(yTitleAt));
    ctx.rotate(-Math.PI / 2);
    ctx.fillText('Cross Section (barns)', 0, 0);
    ctx.restore();

    // legend
    ctx.strokeStyle = '#a8a010';
    ctx.lineWidth = 2.5;
    const ly = Y(legendAt.y);
    seg(X(legendAt.line[0]), ly, X(legendAt.line[1]), ly);
    ctx.fillStyle = '#fff';
    ctx.fillRect(X(legendAt.mark) - 6, ly - 6, 12, 12);
    ctx.strokeRect(X(legendAt.mark) - 6, ly - 6, 12, 12);
    ctx.fillStyle = '#1a1a1a';
    ctx.font = 'bold 29px "Liberation Mono", "DejaVu Sans Mono", monospace';
    ctx.textAlign = 'left';
    ctx.fillText('1976 Kinney', X(legendAt.text), ly + 1);

    // text annotations
    notes.forEach(n => {
      ctx.fillStyle = n.color;
      ctx.font = (n.bold ? 'bold ' : '') + n.size + 'px ' + SANS;
      ctx.textAlign = 'left';
      ctx.fillText(n.text, X(n.at[0]), Y(n.at[1]));
    });
    ctx.save();
    ctx.translate(X(totalNote.at[0]), Y(totalNote.at[1]));
    ctx.rotate(totalNote.angle * Math.PI / 180);
    ctx.fillStyle = totalNote.color;
    ctx.font = 'bold 37px ' + SANS;
    ctx.textAlign = 'center';
    ctx.fillText(totalNote.text, 0, 0);
    ctx.restore();

    // arrow
    const x1 = X(arrowFrom[0]), y1 = Y(arrowFrom[1]);
    const x2 = X(arrowTo[0]), y2 = Y(arrowTo[1]);
    const ang = Math.atan2(y2 - y1, x2 - x1);
    ctx.strokeStyle = '#000';
    ctx.fillStyle = '#000';
    ctx.lineWidth = 2.5;
    seg(x1, y1, x2 - 14 * Math.cos(ang), y2 - 14 * Math.sin(ang));
    ctx.beginPath();
    ctx.moveTo(x2, y2);
    ctx.lineTo(x2 - 20 * Math.cos(ang) + 8 * Math.sin(ang), y2 - 20 * Math.sin(ang) - 8 * Math.cos(ang));
    ctx.lineTo(x2 - 20 * Math.cos(ang) - 8 * Math.sin(ang), y2 - 20 * Math.sin(ang) + 8 * Math.cos(ang));
    ctx.closePath();
    ctx.fill();

    ctx.restore();
  }
};

const line = (data, color, width, order, smooth) => ({
  data: pts(data),
  borderColor: color,
  borderWidth: width,
  borderJoinStyle: 'round',
  pointRadius: 0,
  fill: false,
  order: order,
  cubicInterpolationMode: smooth ? 'monotone' : 'default',
  tension: 0
});

const kinneySet = {
  data: pts(kinneyPts),
  borderColor: '#a8a010',
  borderWidth: 2.2,
  pointStyle: 'rect',
  pointRadius: 6.5,
  pointBorderWidth: 2.4,
  pointBorderColor: '#a8a010',
  pointBackgroundColor: 'rgba(255,255,255,0)',
  showLine: true,
  fill: false,
  order: 5,
  errRel: kinneyRelErr
};

new Chart(document.getElementById('xsChart'), {
  type: 'line',
  data: {
    datasets: [
      line(inelAvg, '#b3201a', 4, 1, true),
      line(elasticAvg, '#ff2200', 4, 2, true),
      line(totalAvg, '#a5a000', 3.5, 3, true),
      kinneySet,
      line(elasticAvgAlt, '#3fea3f', 2, 6, true),
      line(inelCielo, '#1c9b1c', 4, 7, false),
      line(inelJeff, '#1a24b0', 4, 8, false),
      line(elasticPts, '#45f2f4', 4, 9, false),
      line(totalPts, '#a52aad', 4, 10, false)
    ]
  },
  options: {
    responsive: false,
    animation: false,
    events: [],
    layout: { padding: { left: 136, top: 16, right: 0, bottom: 117 } },
    plugins: { legend: { display: false }, tooltip: { enabled: false } },
    scales: {
      x: { type: 'linear', display: false, min: xRange[0], max: xRange[1] },
      y: { type: 'logarithmic', display: false, min: yRange[0], max: yRange[1] }
    }
  },
  plugins: [frame]
});
</script>
</body>
</html>
